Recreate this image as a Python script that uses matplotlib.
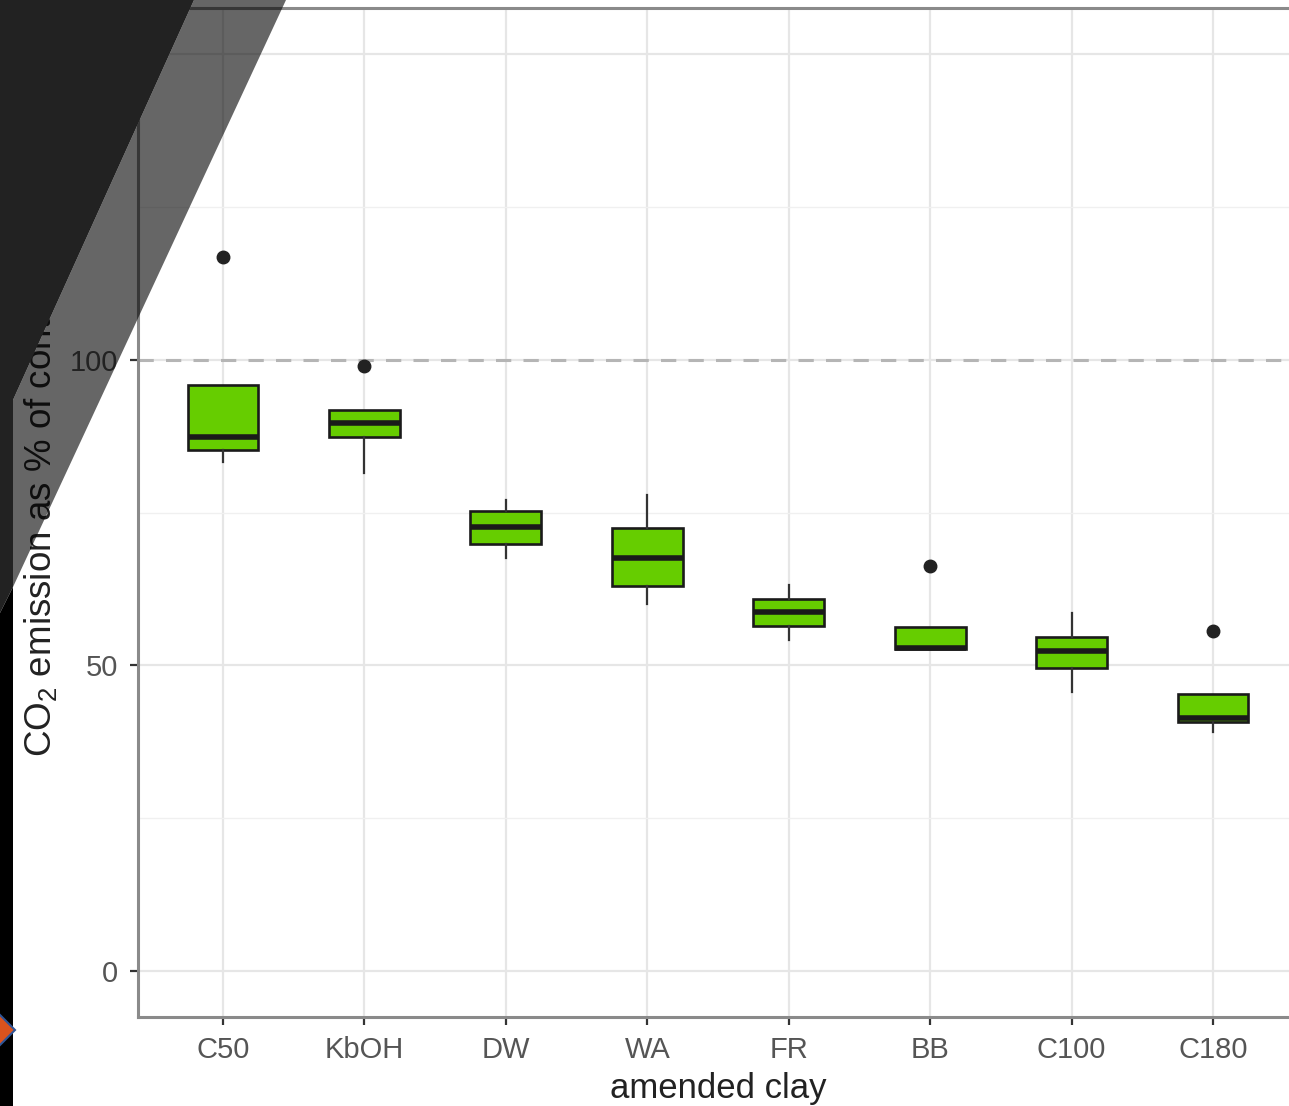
import numpy as np
import matplotlib
matplotlib.use("Agg")
import matplotlib.pyplot as plt
from matplotlib.patches import Polygon

# data
clays = ["C50", "KbOH", "DW", "WA", "FR", "BB", "C100", "C180"]
q1 = [85.3, 87.4, 69.8, 62.9, 56.5, 52.6, 49.5, 40.7]
med = [87.3, 89.7, 72.7, 67.5, 58.8, 52.9, 52.3, 41.4]
q3 = [95.9, 91.8, 75.3, 72.5, 60.9, 56.2, 54.7, 45.4]
whislo = [83.2, 81.5, 67.6, 60.0, 54.2, 52.6, 45.6, 39.1]
whishi = [95.9, 91.8, 77.0, 77.9, 63.2, 56.2, 58.5, 45.4]
fliers = [[116.7], [98.9], [], [], [], [66.3], [], [55.7]]
yticks = [0, 50, 100]
ref_line = 100

plt.rcParams['font.family'] = ['Liberation Sans', 'DejaVu Sans']
plt.rcParams['mathtext.fontset'] = 'custom'
plt.rcParams['mathtext.rm'] = 'Liberation Sans'
plt.rcParams['mathtext.it'] = 'Liberation Sans'

W, H = 1289, 1106
fig = plt.figure(figsize=(W / 100, H / 100), dpi=100)
fig.patch.set_facecolor("white")

# panel: left 138px, right 1298px (cut off), top 8px, bottom 1017px
ax = fig.add_axes([138 / W, 1 - 1017 / H, (1298 - 138) / W, (1017 - 8) / H])

stats = []
for i in range(len(clays)):
    stats.append(dict(label=clays[i], q1=q1[i], med=med[i], q3=q3[i],
                      whislo=whislo[i], whishi=whishi[i], fliers=fliers[i]))

pos = np.arange(1, len(clays) + 1)
ax.bxp(stats, positions=pos, widths=0.5, patch_artist=True, showcaps=False,
       boxprops=dict(facecolor="#66CD00", edgecolor="#1a1a1a", linewidth=1.9),
       medianprops=dict(color="#1a1a1a", linewidth=4.0),
       whiskerprops=dict(color="#333333", linewidth=1.6),
       flierprops=dict(marker="o", markerfacecolor="#222222", markeredgecolor="#222222",
                       markersize=9),
       zorder=3)

ax.axhline(ref_line, color="#b5b5b5", linewidth=2.2, linestyle=(0, (5, 4)), zorder=2)

ax.set_xlim(0.4, 8.6)
ax.set_ylim(-7.5, 157.5)
ax.set_xticks(pos)
ax.set_xticklabels(clays)
ax.set_yticks([25, 75, 125], minor=True)
ax.set_yticks(yticks + [150])
ax.set_yticklabels([str(v) for v in yticks] + [""])
ax.grid(True, which="major", color="#e6e6e6", linewidth=1.6)
ax.grid(True, which="minor", axis="y", color="#f0f0f0", linewidth=1.0)
ax.set_axisbelow(True)
ax.tick_params(axis="both", which="major", length=5.5, width=1.6, color="#333333",
               labelsize=21, labelcolor="#555555")
ax.tick_params(axis="x", which="major", pad=8)
ax.tick_params(axis="y", which="major", pad=9)
ax.tick_params(axis="y", which="minor", length=0)
ax.yaxis.get_major_ticks()[3].tick1line.set_visible(False)
for s in ax.spines.values():
    s.set_color("#8a8a8a")
    s.set_linewidth(2.2)
ax.set_xlabel("amended clay", fontsize=25, color="#222222", labelpad=6)

fig.text(41 / W, 1 - 757 / H, "CO$_2$ emission as % of control", rotation=90,
         ha="center", va="bottom", fontsize=26.5, color="#222222", zorder=3)


# slide decoration covering the left edge (pixel coords from the top)
def px(pts):
    return [(x / W, 1 - y / H) for x, y in pts]


fig.patches.append(Polygon(px([(0, 0), (194, 0), (13, 400), (13, 587), (0, 613)]),
                           closed=True, facecolor="#222222", edgecolor="none",
                           transform=fig.transFigure, zorder=10))
fig.patches.append(Polygon(px([(194, 0), (286, 0), (13, 587), (13, 400)]),
                           closed=True, facecolor="black", alpha=0.6, edgecolor="none",
                           transform=fig.transFigure, zorder=10))
fig.patches.append(Polygon(px([(0, 613), (13, 587), (13, H), (0, H)]),
                           closed=True, facecolor="black", edgecolor="none",
                           transform=fig.transFigure, zorder=10))
fig.patches.append(Polygon(px([(-15, 1030), (0, 1015), (15, 1030), (0, 1045)]),
                           closed=True, facecolor="#d9531e", edgecolor="#2f5597",
                           linewidth=1.5, transform=fig.transFigure, zorder=11))

fig.savefig("out.png", dpi=100)
